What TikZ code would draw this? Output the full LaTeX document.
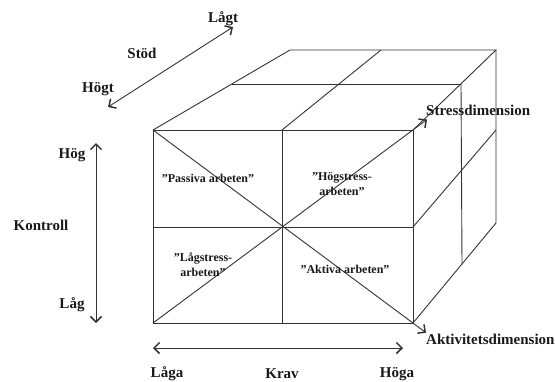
\documentclass[tikz,border=0pt]{standalone}
\usepackage{fontspec}
\setmainfont{Liberation Serif}
\usetikzlibrary{arrows.meta}
\begin{document}
\begin{tikzpicture}[x=1pt,y=-1pt,
  edge/.style={draw=black!80, line width=0.9pt},
  tip/.tip={Straight Barb[length=5.5pt,width=11pt,line width=1.5pt]},
  arr/.style={edge, -tip},
  darr/.style={edge, tip-tip},
  lab/.style={font=\fontsize{15}{17}\selectfont\bfseries, inner sep=0pt, text=black!90},
  cell/.style={font=\fontsize{12}{15}\selectfont\bfseries, align=center, inner sep=0pt, text=black!90}]
\useasboundingbox (0,0) rectangle (555,381);
% cube corners
\coordinate (F1) at (153,130);
\coordinate (F2) at (413,130);
\coordinate (F3) at (413,323);
\coordinate (F4) at (153,323);
\coordinate (FMt) at (282,130);
\coordinate (FMb) at (282,323);
\coordinate (FMl) at (153,227);
\coordinate (FMr) at (413,227);
\coordinate (B1) at (290,50);
\coordinate (BM) at (381,50);
\coordinate (B3) at (496,50);
\coordinate (B4) at (496,223);
\coordinate (TL) at (232,84);
\coordinate (TR) at (461,84);
\coordinate (RB) at (462,264);
\coordinate (RM) at (496,130);
\coordinate (S) at (427,119.5);
\coordinate (A) at (426,332.7);
% front face
\draw[edge] (F1) rectangle (F3);
\draw[edge] (FMt) -- (FMb);
\draw[edge] (FMl) -- (FMr);
% top face
\draw[edge] (F1) -- (B1) -- (B3) -- (F2);
\draw[edge] (FMt) -- (BM);
\draw[edge] (TL) -- (TR);
% right face
\draw[edge] (B3) -- (B4) -- (F3);
\draw[edge] (TR) -- (RB);
\draw[edge] (FMr) -- (RM);
% diagonals
\draw[arr] (F4) -- (S);
\draw[arr] (F1) -- (A);
% labels
\node[lab, anchor=west] (stress) at (426,110) {Stressdimension};
\node[lab, anchor=west] (akt) at (426,339) {Aktivitetsdimension};
\node[cell] (passiva) at (208,178) {”Passiva arbeten”};
\node[cell] (hogstress) at (342,184) {”Högstress-\\arbeten”};
\node[cell] (lagstress) at (203,265) {”Lågstress-\\arbeten”};
\node[cell] (aktiva) at (345,269) {”Aktiva arbeten”};
% Stöd axis
\coordinate (st1) at (108,107);
\coordinate (st2) at (233,27);
\draw[darr] (st1) -- (st2);
\node[lab] (lagt) at (223,19) {Lågt};
\node[lab] (stod) at (142,53) {Stöd};
\node[lab] (hogt) at (98,89) {Högt};
% Kontroll axis
\coordinate (k1) at (96,143);
\coordinate (k2) at (96,323);
\draw[darr] (k1) -- (k2);
\node[lab] (hog) at (72,155) {Hög};
\node[lab] (kontroll) at (41,225) {Kontroll};
\node[lab] (lag) at (72,305) {Låg};
% Krav axis
\coordinate (kr1) at (153,348);
\coordinate (kr2) at (403,348);
\draw[darr] (kr1) -- (kr2);
\node[lab] (laga) at (167,374) {Låga};
\node[lab] (krav) at (282,374) {Krav};
\node[lab] (hoga) at (397,374) {Höga};
\end{tikzpicture}
\end{document}
